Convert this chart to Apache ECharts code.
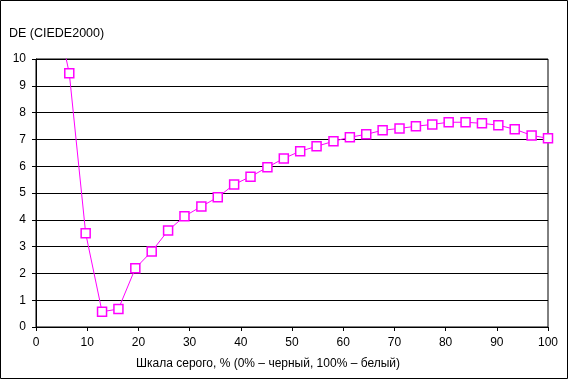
<!DOCTYPE html>
<html><head><meta charset="utf-8">
<script src="https://cdn.jsdelivr.net/npm/echarts@6/dist/echarts.min.js"></script>
<style>html,body{margin:0;padding:0;background:#fff}#c{width:568px;height:379px}</style>
</head><body><div id="c"></div>
<script>
const xValues = [3.2, 6.5, 9.7, 12.9, 16.1, 19.4, 22.6, 25.8, 29.0, 32.3, 35.5, 38.7, 41.9, 45.2, 48.4, 51.6, 54.8, 58.1, 61.3, 64.5, 67.7, 71.0, 74.2, 77.4, 80.6, 83.9, 87.1, 90.3, 93.5, 96.8, 100];
const deValues = [12.4, 9.47, 3.50, 0.57, 0.67, 2.19, 2.82, 3.60, 4.13, 4.50, 4.84, 5.32, 5.61, 5.96, 6.29, 6.56, 6.74, 6.93, 7.08, 7.19, 7.34, 7.41, 7.49, 7.56, 7.64, 7.64, 7.60, 7.53, 7.38, 7.15, 7.04];
const yTitle = 'DE (CIEDE2000)';
const xTitle = 'Шкала серого, % (0% – черный, 100% – белый)';

const chart = echarts.init(document.getElementById('c'), null, {renderer: 'canvas'});
const font = '"Liberation Sans", Arial, sans-serif';
chart.setOption({
  animation: false,
  backgroundColor: '#fff',
  grid: {left: 36, right: 20, top: 59, bottom: 52, show: true, borderColor: '#000', borderWidth: 1, backgroundColor: 'transparent'},
  xAxis: {
    type: 'value', min: 0, max: 100, interval: 10,
    axisLine: {lineStyle: {color: '#000', width: 1}},
    axisTick: {show: true, length: 4, lineStyle: {color: '#000'}},
    axisLabel: {color: '#000', fontFamily: font, fontSize: 12, margin: 10},
    splitLine: {show: false}
  },
  yAxis: {
    type: 'value', min: 0, max: 10, interval: 1,
    axisLine: {show: true, lineStyle: {color: '#000', width: 1}},
    axisTick: {show: true, length: 4, lineStyle: {color: '#000'}},
    axisLabel: {color: '#000', fontFamily: font, fontSize: 12, margin: 10},
    splitLine: {show: true, lineStyle: {color: '#000', width: 1}}
  },
  series: [{
    type: 'line',
    data: xValues.map((x, i) => [x, deValues[i]]),
    clip: true,
    symbol: 'rect',
    symbolSize: 9,
    showAllSymbol: true,
    lineStyle: {color: '#ff00ff', width: 1},
    itemStyle: {color: '#fff', borderColor: '#ff00ff', borderWidth: 1.5}
  }],
  graphic: [
    {type: 'rect', shape: {x: 0.5, y: 0.5, width: 567, height: 378}, style: {fill: 'none', stroke: '#000', lineWidth: 1}, z: 100},
    {type: 'text', left: 9, top: 27, style: {text: yTitle, fill: '#000', font: '12.5px ' + font}},
    {type: 'text', x: 268, y: 358, style: {text: xTitle, fill: '#000', font: '12px ' + font, textAlign: 'center'}}
  ]
});
</script></body></html>
